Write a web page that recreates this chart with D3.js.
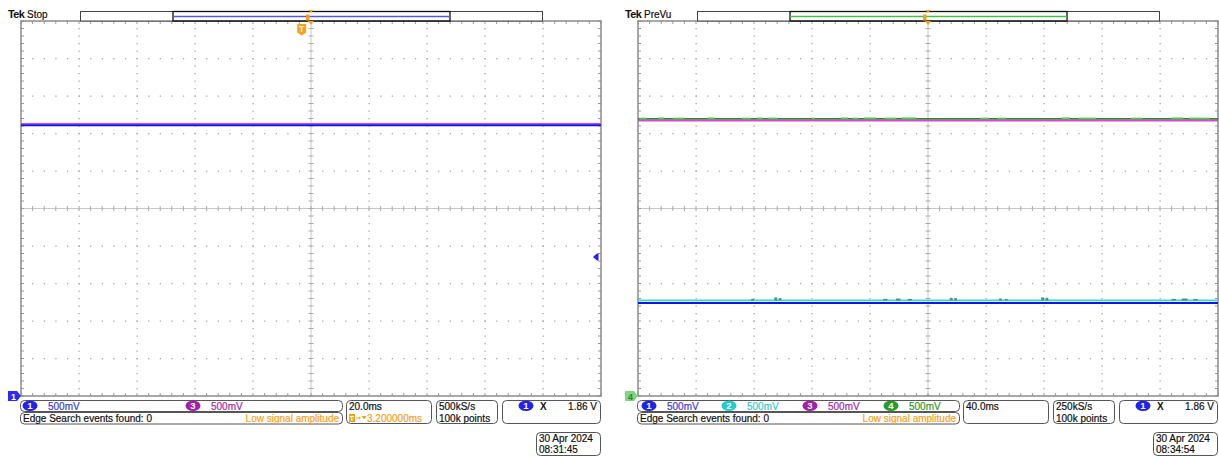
<!DOCTYPE html>
<html><head><meta charset="utf-8">
<script src="https://cdn.jsdelivr.net/npm/d3@7"></script>
<style>
body{margin:0;background:#fff}
svg{display:block}
text{font-family:"Liberation Sans",Arial,sans-serif;font-size:10px}
</style>
</head><body>
<svg id="c" width="1219" height="456"></svg>
<script>
// ---------------- DATA ----------------
const panelStates = ["Stop", "PreVu"];
const timebaseMs = [20.0, 40.0];
const timebaseLabels = ["20.0ms", "40.0ms"];
const sampleRates = ["500kS/s", "250kS/s"];
const recordLengths = ["100k points", "100k points"];
const triggerLabels = ["1.86 V", "1.86 V"];
const triggerLevelDiv = [-1.29, null];
const triggerDelayMs = [3.2, null];
const triggerDelayLabel = "3.200000ms";
const dateLabels = ["30 Apr  2024", "30 Apr  2024"];
const timeLabels = ["08:31:45", "08:34:54"];
const searchText = "Edge Search events found: 0";
const warnText = "Low signal amplitude";

const leftChannels = [1, 3];
const leftScales = ["500mV", "500mV"];
const rightChannels = [1, 2, 3, 4];
const rightScales = ["500mV", "500mV", "500mV", "500mV"];

// trace levels (divisions from screen centre)
const leftTraceCh = [3, 1];
const leftTraceDiv = [2.26, 2.22];
const rightTraceCh = [3, 4, 2, 1];
const rightTraceDiv = [2.34, 2.39, -2.45, -2.52];

// ground markers
const groundCh = [1, 4];
const groundDiv = [-5, -5];

// noise bursts on right-panel traces (ms start, ms end, height in div)
const ch4NoiseStart = [-199, -186, -176, -152, -128, -118, -110, -80, -60, -52, -44, -30, -18, 36, 48, 92, 104, 140, 168, 180];
const ch4NoiseEnd   = [-194, -182, -168, -147, -122, -114, -104, -78, -55, -48, -36, -22, -8, 42, 54, 98, 116, 148, 176, 194];
const ch4NoiseH     = [0.04, 0.05, 0.04, 0.05, 0.04, 0.05, 0.04, 0.04, 0.05, 0.04, 0.05, 0.04, 0.05, 0.04, 0.04, 0.05, 0.04, 0.04, 0.05, 0.04];
const ch2NoiseStart = [-122, -106, -103, -31, -22, -14, 15, 18, 49, 53, 78, 81, 168, 175, 183];
const ch2NoiseEnd   = [-120, -104, -101, -28, -19, -11, 17, 20, 51, 55, 80, 83, 171, 179, 186];
const ch2NoiseH     = [0.04, 0.08, 0.06, 0.04, 0.05, 0.04, 0.07, 0.06, 0.05, 0.04, 0.08, 0.07, 0.04, 0.05, 0.04];

// ---------------- STYLE ----------------
const chColor = {1:"#2222ee", 2:"#22cccc", 3:"#a020a8", 4:"#2a9a2a"};
const chText  = {1:"#3b3bdd", 2:"#33cccc", 3:"#a52aa5", 4:"#2a9a2a"};
const traceColor = {1:"#1414e0", 2:"#30d8e0", 3:"#e040e0", 4:"#3a7a3a"};
const orange = "#f7a11a";
const gridCol = "#a8a8a8";

const svg = d3.select("#c");
const panelX = [21, 638];
const PW = 580, PTop = 21, PH = 375;

function T(g, x, y, str, col) {
  return g.append("text").attr("x", x).attr("y", y).attr("fill", col)
    .attr("stroke", col).attr("stroke-width", 0.2).text(str);
}
function badge(g, cx, cy, n, fill, txt) {
  g.append("ellipse").attr("cx", cx).attr("cy", cy).attr("rx", 7.5).attr("ry", 5.2).attr("fill", fill);
  g.append("text").attr("x", cx).attr("y", cy + 3.5).attr("text-anchor", "middle")
    .attr("fill", txt || "#fff").style("font-size", "9.5px").style("font-weight", "bold").text(n);
}
function box(g, x, y, w, h) {
  g.append("rect").attr("x", x + 0.5).attr("y", y + 0.5).attr("width", w).attr("height", h)
    .attr("rx", 4).attr("fill", "#fff").attr("stroke", "#555").attr("stroke-width", 1);
}

panelStates.forEach((state, p) => {
  const x0 = panelX[p];
  const g = svg.append("g");
  const tdiv = timebaseMs[p];
  const x = d3.scaleLinear().domain([-5 * tdiv, 5 * tdiv]).range([x0, x0 + PW]);
  const y = d3.scaleLinear().domain([-5, 5]).range([PTop + PH, PTop]);
  const minorT = d3.range(-25, 26).map(i => i * tdiv / 5);
  const minorV = d3.range(-25, 26).map(i => i / 5);
  const majorT = d3.range(-5, 6).map(i => i * tdiv);
  const majorV = d3.range(-5, 6);

  majorT.slice(1, -1).forEach(t => {
    if (t === 0) return;
    minorV.slice(1, -1).forEach(v => {
      g.append("rect").attr("x", x(t) - 0.5).attr("y", y(v) - 0.5).attr("width", 1.3).attr("height", 1.3).attr("fill", gridCol);
    });
  });
  majorV.slice(1, -1).forEach(v => {
    if (v === 0) return;
    minorT.slice(1, -1).forEach(t => {
      g.append("rect").attr("x", x(t) - 0.5).attr("y", y(v) - 0.5).attr("width", 1.3).attr("height", 1.3).attr("fill", gridCol);
    });
  });
  g.append("line").attr("x1", x(0)).attr("x2", x(0)).attr("y1", y(5)).attr("y2", y(-5)).attr("stroke", "#c8c8c8").attr("stroke-width", 1);
  g.append("line").attr("x1", x(-5 * tdiv)).attr("x2", x(5 * tdiv)).attr("y1", y(0)).attr("y2", y(0)).attr("stroke", "#c8c8c8").attr("stroke-width", 1);
  minorV.forEach(v => {
    g.append("line").attr("x1", x(0) - 2.5).attr("x2", x(0) + 2.5).attr("y1", y(v)).attr("y2", y(v)).attr("stroke", "#aaa");
    g.append("line").attr("x1", x0).attr("x2", x0 + 3).attr("y1", y(v)).attr("y2", y(v)).attr("stroke", "#999");
    g.append("line").attr("x1", x0 + PW - 3).attr("x2", x0 + PW).attr("y1", y(v)).attr("y2", y(v)).attr("stroke", "#999");
  });
  minorT.forEach(t => {
    g.append("line").attr("x1", x(t)).attr("x2", x(t)).attr("y1", y(0) - 2.5).attr("y2", y(0) + 2.5).attr("stroke", "#aaa");
    g.append("line").attr("x1", x(t)).attr("x2", x(t)).attr("y1", PTop).attr("y2", PTop + 3).attr("stroke", "#999");
    g.append("line").attr("x1", x(t)).attr("x2", x(t)).attr("y1", PTop + PH - 3).attr("y2", PTop + PH).attr("stroke", "#999");
  });
  g.append("rect").attr("x", x0).attr("y", PTop).attr("width", PW).attr("height", PH)
    .attr("fill", "none").attr("stroke", "#8a8a8a").attr("stroke-width", 1.5);

  // traces
  const line = d3.line().x(d => x(d[0])).y(d => y(d[1]));
  const chs = p === 0 ? leftTraceCh : rightTraceCh;
  const lv = p === 0 ? leftTraceDiv : rightTraceDiv;
  chs.forEach((ch, i) => {
    g.append("path").attr("d", line([[-5 * tdiv, lv[i]], [5 * tdiv, lv[i]]]))
      .attr("stroke", traceColor[ch]).attr("fill", "none")
      .attr("stroke-width", ch === 1 ? 2.2 : 1.6);
  });
  if (p === 1) {
    const l4 = rightTraceDiv[rightTraceCh.indexOf(4)];
    ch4NoiseStart.forEach((s, i) => {
      g.append("rect").attr("x", x(s)).attr("width", x(ch4NoiseEnd[i]) - x(s))
        .attr("y", y(l4 + ch4NoiseH[i])).attr("height", y(l4) - y(l4 + ch4NoiseH[i]))
        .attr("fill", "#6fe06f").attr("opacity", 0.75);
    });
    const l2 = rightTraceDiv[rightTraceCh.indexOf(2)];
    ch2NoiseStart.forEach((s, i) => {
      g.append("rect").attr("x", x(s)).attr("width", x(ch2NoiseEnd[i]) - x(s))
        .attr("y", y(l2 + ch2NoiseH[i])).attr("height", y(l2) - y(l2 + ch2NoiseH[i]))
        .attr("fill", "#2f7a6a").attr("opacity", 0.8);
    });
  }

  if (triggerLevelDiv[p] !== null) {
    const ty = y(triggerLevelDiv[p]), tx = x0 + PW - 4;
    g.append("path").attr("d", `M${tx - 4},${ty} L${tx},${ty - 3.5} L${tx + 1.5},${ty - 3.5} L${tx + 1.5},${ty + 3.5} L${tx},${ty + 3.5} Z`).attr("fill", chColor[1]);
  }
  if (triggerDelayMs[p] !== null) {
    const tx = x(-triggerDelayMs[p]);
    g.append("path").attr("d", `M${tx - 4.5},24 L${tx + 4.5},24 L${tx + 4.5},32.5 L${tx},35.5 L${tx - 4.5},32.5 Z`).attr("fill", orange);
    g.append("text").attr("x", tx).attr("y", 31.5).attr("text-anchor", "middle").attr("fill", "#fff")
      .style("font-size", "8.5px").style("font-weight", "bold").text("T");
  }
  {
    const gy = y(groundDiv[p]);
    const ch = groundCh[p];
    const fill = ch === 1 ? "#2a2af0" : "#7cd87c";
    const tc = ch === 1 ? "#fff" : "#3c7a3c";
    g.append("path").attr("d", `M${x0 - 13},${gy - 5} L${x0 - 4},${gy - 5} L${x0},${gy} L${x0 - 4},${gy + 5} L${x0 - 13},${gy + 5} Z`).attr("fill", fill);
    g.append("text").attr("x", x0 - 7.5).attr("y", gy + 3.5).attr("text-anchor", "middle").attr("fill", tc)
      .style("font-size", "9px").style("font-weight", "bold").text(ch);
  }

  // header
  g.append("text").attr("x", x0 - 13).attr("y", 18).style("font-size", "11px").style("font-weight", "bold")
    .style("letter-spacing", "-0.6px").attr("fill", "#111").text("Tek");
  T(g, x0 + 6, 18, state, "#111");
  g.append("rect").attr("x", x0 + 59.5).attr("y", 11.5).attr("width", 462).attr("height", 9.5)
    .attr("fill", "#fff").attr("stroke", "#444").attr("stroke-width", 1);
  g.append("rect").attr("x", x0 + 152).attr("y", 11.5).attr("width", 277).attr("height", 9.5)
    .attr("fill", "none").attr("stroke", "#111").attr("stroke-width", 1.3);
  g.append("line").attr("x1", x0 + 152).attr("x2", x0 + 429).attr("y1", 16.5).attr("y2", 16.5)
    .attr("stroke", p === 0 ? "#5555ee" : "#44c044").attr("stroke-width", 1.3);
  const cx = x(0);
  g.append("rect").attr("x", cx - 5).attr("y", 14.5).attr("width", 3.5).attr("height", 6).attr("fill", orange);
  g.append("path").attr("d", `M${cx - 2.5},10 L${cx + 2.5},10 L${cx},13 Z`).attr("fill", orange);
  g.append("path").attr("d", `M${cx - 3},21 L${cx + 3},21 L${cx},25 Z`).attr("fill", orange);

  // ------------- status area -------------
  const s = svg.append("g");
  const chList = p === 0 ? leftChannels : rightChannels;
  const scList = p === 0 ? leftScales : rightScales;
  const rowW = 322;
  box(s, x0 - 1, 400, rowW, 11);
  box(s, x0 - 1, 412, rowW, 11.5);
  const slotX = p === 0 ? [x0 + 9, x0 + 172] : [x0 + 11, x0 + 91, x0 + 172, x0 + 253];
  chList.forEach((ch, i) => {
    const bx = slotX[i];
    badge(s, bx, 405.7, ch, chColor[ch]);
    T(s, bx + 18, 409.5, scList[i], chText[ch]);
  });
  T(s, x0 + 2, 421.5, searchText, "#111");
  T(s, x0 + rowW - 4, 421.5, warnText, orange).attr("text-anchor", "end");

  const bx = x0 + rowW + 3;
  box(s, bx, 400, 85, 23);
  T(s, bx + 3, 409.5, timebaseLabels[p], "#111");
  if (triggerDelayMs[p] !== null) {
    s.append("rect").attr("x", bx + 3).attr("y", 414).attr("width", 6).attr("height", 8).attr("fill", orange);
    s.append("text").attr("x", bx + 6).attr("y", 420.5).attr("text-anchor", "middle").attr("fill", "#fff")
      .style("font-size", "7px").style("font-weight", "bold").text("T");
    s.append("path").attr("d", `M${bx + 10},418 L${bx + 14},418`).attr("stroke", orange).attr("stroke-width", 1);
    s.append("path").attr("d", `M${bx + 13},416.5 L${bx + 15},418 L${bx + 13},419.5 Z`).attr("fill", orange);
    s.append("path").attr("d", `M${bx + 15.5},416 L${bx + 20.5},416 L${bx + 18},419.5 Z`).attr("fill", orange);
    T(s, bx + 21, 421.5, triggerDelayLabel, orange);
  }
  const dx = bx + 90;
  box(s, dx, 400, 61, 23);
  T(s, dx + 3, 409.5, sampleRates[p], "#111");
  T(s, dx + 3, 421.5, recordLengths[p], "#111");
  const ex = dx + 66;
  box(s, ex, 400, x0 + PW - ex - 1, 23);
  badge(s, ex + 24, 405.7, 1, chColor[1]);
  s.append("text").attr("x", ex + 38).attr("y", 409.5).attr("fill", "#111").style("font-weight", "bold").text("X");
  T(s, x0 + PW - 4, 409.5, triggerLabels[p], "#111").attr("text-anchor", "end");

  const tx = x0 + PW - 65;
  box(s, tx, 432, 64, 23);
  T(s, tx + 3, 442, dateLabels[p], "#111");
  T(s, tx + 3, 453, timeLabels[p], "#111");
});
</script>
</body></html>
